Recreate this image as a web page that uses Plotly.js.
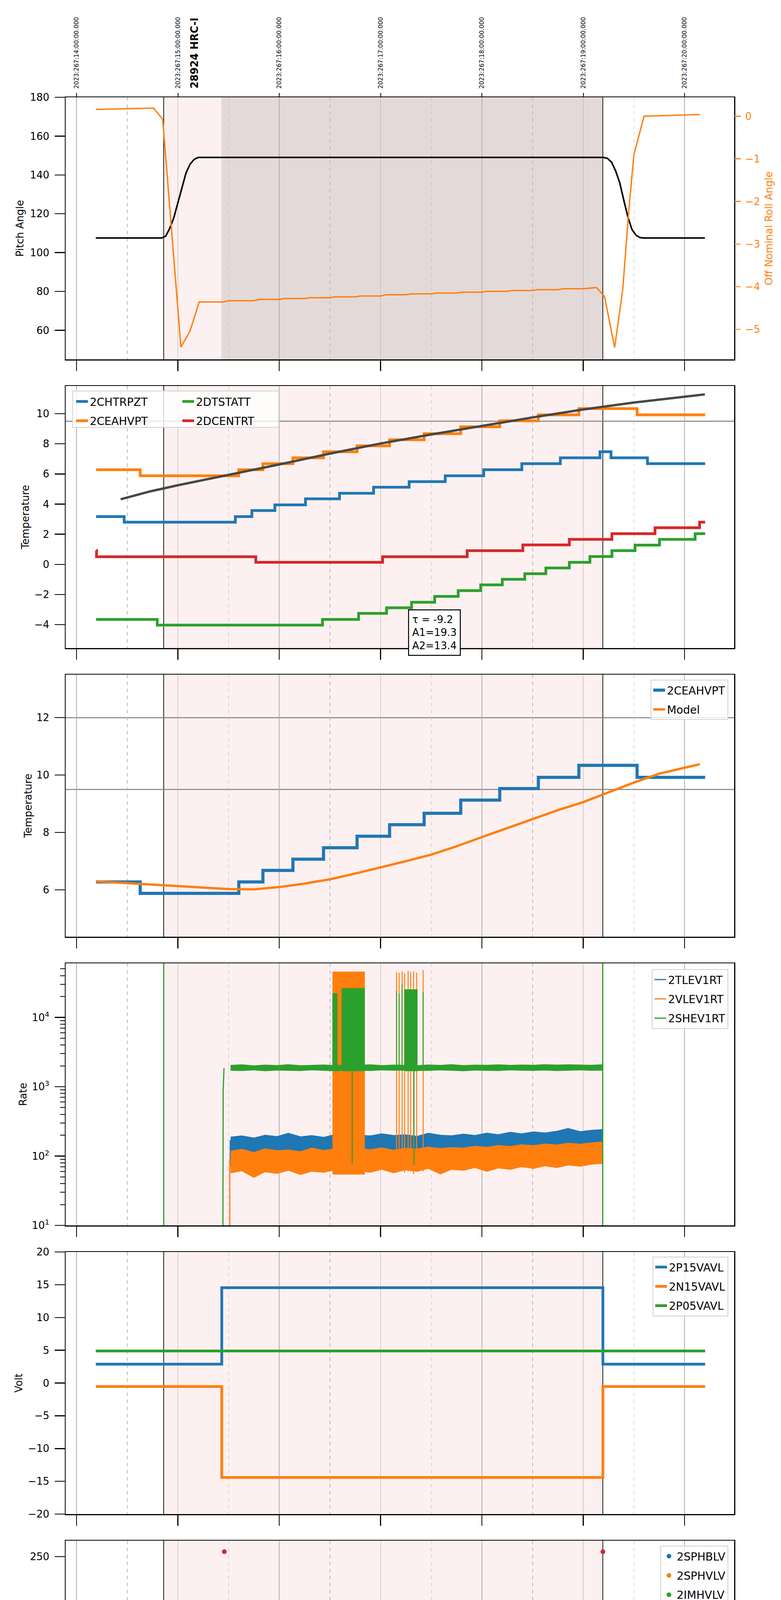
<!DOCTYPE html>
<html>
<head>
<meta charset="utf-8">
<script src="https://cdn.plot.ly/plotly-3.0.1.min.js"></script>
<style>body{margin:0;background:white}#chart{width:2000px;height:6200px}</style>
</head>
<body>
<div id="chart"></div>
<script>
// time axis is local hours on 2023-09-24 (day 267)
var HOURS = [10, 11, 12, 13, 14, 15, 16];
var HALF_HOURS = [10.5, 11.5, 12.5, 13.5, 14.5, 15.5];
var HOUR_LABELS = ['10h', '11h', '12h', '13h', '14h', '15h', '16h'];
var UTC_LABELS = ['2023:267:14:00:00.000', '2023:267:15:00:00.000', '2023:267:16:00:00.000',
  '2023:267:17:00:00.000', '2023:267:18:00:00.000', '2023:267:19:00:00.000', '2023:267:20:00:00.000'];
var OBS_START = 10.860, OBS_END = 15.193, SCI_START = 11.43;

// panel 1: pitch and roll
var pitchT = [10.19, 10.84, 10.88, 10.92, 10.96, 11.00, 11.04, 11.08, 11.12, 11.16, 11.20, 15.20, 15.24, 15.28, 15.32, 15.36, 15.40, 15.44, 15.48, 15.52, 15.56, 15.60, 16.20];
var pitchV = [107.5, 107.5, 108.5, 112.5, 118, 125.5, 133.5, 141, 145.5, 148, 149, 149, 148.5, 146.5, 142, 136, 127, 118.5, 112, 109, 107.7, 107.5, 107.5];
var rollT = [10.19, 10.76, 10.85, 11.03, 11.12, 11.21, 11.45, 11.5, 11.75, 11.8, 12.0, 12.05, 12.25, 12.3, 12.5, 12.55, 12.75, 12.8, 13.0, 13.05, 13.25, 13.3, 13.5, 13.55, 13.75, 13.8, 14.0, 14.05, 14.25, 14.3, 14.5, 14.55, 14.75, 14.8, 15.0, 15.05, 15.13, 15.21, 15.31, 15.39, 15.45, 15.5, 15.6, 16.15];
var rollV = [0.16, 0.19, -0.07, -5.42, -5.04, -4.36, -4.36, -4.33, -4.33, -4.30, -4.30, -4.28, -4.28, -4.26, -4.26, -4.24, -4.24, -4.22, -4.22, -4.19, -4.19, -4.17, -4.17, -4.15, -4.15, -4.13, -4.13, -4.11, -4.11, -4.09, -4.09, -4.07, -4.07, -4.05, -4.05, -4.04, -4.02, -4.23, -5.43, -4.06, -2.2, -0.9, 0.0, 0.04];

// panel 2: temperatures
var chtrpztT = [10.193, 10.470, 11.567, 11.730, 11.957, 12.259, 12.595, 12.931, 13.282, 13.638, 14.018, 14.394, 14.774, 15.165, 15.274, 15.634, 16.203];
var chtrpztV = [3.17, 2.80, 3.17, 3.57, 3.95, 4.35, 4.72, 5.12, 5.49, 5.88, 6.28, 6.68, 7.07, 7.47, 7.07, 6.68, 6.68];
var ceahvptT = [10.193, 10.628, 11.601, 11.839, 12.135, 12.437, 12.768, 13.089, 13.430, 13.791, 14.176, 14.557, 14.957, 15.531, 16.203];
var ceahvptV = [6.28, 5.88, 6.28, 6.68, 7.07, 7.47, 7.87, 8.27, 8.67, 9.13, 9.53, 9.92, 10.34, 9.92, 9.92];
var dtstattT = [10.193, 10.796, 12.427, 12.783, 13.059, 13.306, 13.534, 13.766, 13.988, 14.201, 14.423, 14.631, 14.863, 15.066, 15.283, 15.511, 15.753, 16.104, 16.203];
var dtstattV = [-3.65, -4.03, -3.65, -3.25, -2.88, -2.51, -2.12, -1.74, -1.36, -0.99, -0.62, -0.24, 0.14, 0.52, 0.91, 1.28, 1.66, 2.04, 2.04];
var dcentrtT = [10.193, 10.197, 11.769, 13.020, 13.855, 14.404, 14.863, 15.283, 15.708, 16.148, 16.203];
var dcentrtV = [0.92, 0.51, 0.14, 0.51, 0.91, 1.29, 1.66, 2.04, 2.43, 2.80, 2.80];
var fitT = [10.435, 10.73, 11.0, 11.5, 12.0, 12.5, 13.0, 13.5, 14.0, 14.5, 15.0, 15.5, 16.2];
var fitV = [4.32, 4.85, 5.25, 5.93, 6.63, 7.35, 8.02, 8.62, 9.2, 9.75, 10.28, 10.74, 11.28];
var limit2 = [9.5];

// panel 3: 2CEAHVPT vs model
var modelT = [10.19, 10.5, 10.75, 11.0, 11.25, 11.5, 11.75, 12.0, 12.25, 12.5, 12.75, 13.0, 13.25, 13.5, 13.75, 14.0, 14.25, 14.5, 14.75, 15.0, 15.25, 15.5, 15.75, 16.0, 16.15];
var modelV = [6.30, 6.24, 6.19, 6.13, 6.08, 6.03, 6.02, 6.10, 6.22, 6.37, 6.57, 6.78, 7.0, 7.23, 7.52, 7.84, 8.15, 8.48, 8.78, 9.06, 9.4, 9.74, 10.05, 10.25, 10.38];
var limit3 = [12, 9.5];

// panel 4: rates (noisy bands given as min / max envelopes)
var bandT = [11.52, 11.63, 11.75, 11.86, 11.98, 12.09, 12.21, 12.32, 12.44, 12.55, 12.67, 12.78, 12.9, 13.01, 13.13, 13.24, 13.36, 13.47, 13.59, 13.7, 13.82, 13.93, 14.05, 14.16, 14.28, 14.39, 14.51, 14.62, 14.74, 14.85, 14.97, 15.08, 15.19];
var tlevHi = [188, 196, 183, 201, 192, 214, 190, 198, 187, 205, 192, 200, 196, 210, 199, 204, 193, 214, 201, 197, 208, 199, 215, 204, 221, 210, 224, 216, 229, 251, 226, 236, 242];
var tlevLo = [112, 118, 110, 116, 113, 120, 108, 117, 114, 118, 111, 120, 116, 123, 114, 121, 119, 125, 118, 127, 121, 129, 123, 132, 128, 136, 132, 140, 137, 144, 141, 148, 152];
var vlevHi = [118, 126, 113, 128, 120, 123, 116, 131, 121, 127, 119, 129, 124, 132, 122, 130, 127, 135, 129, 133, 131, 139, 134, 143, 138, 146, 142, 150, 145, 154, 149, 156, 160];
var vlevLo = [57, 61, 49, 59, 56, 62, 54, 60, 58, 63, 55, 61, 58, 64, 57, 63, 60, 66, 55, 64, 62, 68, 60, 67, 64, 70, 66, 72, 68, 74, 71, 76, 78];
var shevHi = [2040, 2080, 2010, 2060, 2030, 2090, 2020, 2050, 2070, 2030, 2060, 2040, 2080, 2030, 2060, 2050, 2020, 2070, 2040, 2090, 2030, 2060, 2050, 2080, 2040, 2070, 2050, 2090, 2060, 2080, 2070, 2050, 2080];
var shevLo = [1720, 1700, 1740, 1690, 1730, 1710, 1700, 1740, 1720, 1690, 1730, 1710, 1700, 1740, 1720, 1730, 1700, 1710, 1740, 1720, 1690, 1730, 1710, 1700, 1740, 1720, 1710, 1730, 1700, 1720, 1740, 1710, 1730];
var tlevRiseT = [11.517, 11.517], tlevRiseV = [70, 170];
var vlevRiseT = [11.512, 11.512], vlevRiseV = [5, 90];
var shevLineT = [10.86, 10.86, null, 11.443, 11.447, 11.455, null, 15.192, 15.192];
var shevLineV = [1, 1000000, null, 1, 900, 1850, null, 1, 1000000];
var vlevBurstT0 = [12.53, 13.158, 13.183, 13.213, 13.237, 13.272, 13.297, 13.326, 13.356, 13.42];
var vlevBurstT1 = [12.84, 13.158, 13.183, 13.213, 13.237, 13.272, 13.297, 13.326, 13.356, 13.42];
var vlevBurstLo = [55, 60, 60, 60, 58, 60, 60, 55, 60, 60];
var vlevBurstHi = [45000, 45000, 44000, 46000, 43000, 47000, 45000, 46000, 44000, 48000];
var shevBurstT0 = [12.53, 12.62, 12.72, 13.158, 13.183, 13.213, 13.24, 13.33, 13.42];
var shevBurstT1 = [12.57, 12.84, 12.72, 13.158, 13.183, 13.213, 13.36, 13.33, 13.42];
var shevBurstLo = [1700, 1700, 77, 1700, 1700, 1700, 1700, 75, 1700];
var shevBurstHi = [22000, 26000, 26000, 24000, 22000, 30000, 25000, 25000, 23000];

// panel 5: voltages
var p15T = [10.19, 11.433, 15.194, 16.203], p15V = [2.87, 14.55, 2.87, 2.87];
var n15T = [10.19, 11.433, 15.194, 16.203], n15V = [-0.53, -14.41, -0.53, -0.53];
var p05T = [10.19, 16.203], p05V = [4.89, 4.89];

// panel 6: HV monitor points
var imhblvT = [11.458, 11.468, 11.468, 11.473, 11.476, 11.483, 11.49, 11.497, 11.507, 12.679, 12.69, 12.703, 12.728, 13.272, 13.336, 15.194];
var imhblvV = [255, 126, 119, 105, 103, 101, 97, 93, 89, 79, 79, 79, 79, 79, 79, 255];
var imhblvRunT = [11.512, 15.19], imhblvRunV = [86, 86];
var imhvlvT = [11.463, 11.478, 11.493, 11.507, 11.517, 12.679, 12.69, 12.703, 12.728, 13.272, 13.336];
var imhvlvV = [99, 95, 90, 86, 82, 126.8, 126.8, 126.8, 126.8, 126.8, 126.8];
var imhvlvRunT = [11.52, 15.19], imhvlvRunV = [79.4, 79.4];

// panel 7: detector temperatures
var spinatmT = [11.458, 11.478, 13.05, 13.875, 14.59, 15.194];
var spinatmV = [2.75, 3.23, 3.71, 4.17, 4.61, 4.61];
var sphvatmT = [11.433, 11.443, 12.278, 12.634, 12.960, 13.30, 13.568, 13.865, 14.201, 14.522, 14.858, 15.19, 15.194];
var sphvatmV = [14.7, 15.28, 15.56, 15.83, 16.13, 16.39, 16.70, 16.97, 17.27, 17.56, 17.84, 18.05, 18.05];
var iminatmT = [11.458, 13.282, 14.201, 14.952, 15.194];
var iminatmV = [1.49, 1.92, 2.35, 2.79, 2.79];
var imhvatmT = [11.428, 11.433, 11.661, 11.779, 11.873, 11.997, 12.140, 12.298, 12.491, 12.654, 12.901, 13.124, 13.361, 13.633, 13.929, 14.236, 14.557, 14.868, 15.192, 15.196];
var imhvatmV = [-1, 14.69, 14.99, 15.28, 15.56, 15.82, 16.13, 16.40, 16.70, 16.99, 17.27, 17.54, 17.84, 18.13, 18.42, 18.71, 19.00, 19.28, 25, -1];
var spinBurstT0 = [12.53, 12.644, 13.148, 13.42], spinBurstT1 = [12.60, 12.84, 13.356, 13.42];
var spinBurstLo = [0, 0, 0, 0], spinBurstHi = [3.23, 3.23, 3.71, 3.71];
var sphvBurstT0 = [12.53, 12.644, 12.63, 13.148, 13.42], sphvBurstT1 = [12.57, 12.644, 12.84, 13.356, 13.42];
var sphvBurstLo = [10.57, 0, 10.72, 11.3, 11.6], sphvBurstHi = [15.56, 15.56, 15.83, 16.13, 16.39];
var iminBurstT0 = [12.53, 12.62, 13.148, 13.42], iminBurstT1 = [12.57, 12.84, 13.356, 13.42];
var iminBurstLo = [1.49, 1.49, 1.49, 1.92], iminBurstHi = [3.33, 3.33, 3.77, 3.77];
var imhvBurstT0 = [12.53, 12.63, 13.124, 13.36], imhvBurstT1 = [12.57, 12.84, 13.30, 13.36];
var imhvBurstLo = [15.45, 15.69, 16.08, 16.3], imhvBurstHi = [16.7, 16.99, 17.54, 17.84];

// panel 8: FEA temperatures
var fhtrmztT = [11.655, 11.661, 11.784, 11.903, 12.002, 12.125, 12.239, 12.358, 12.481, 12.605, 12.73, 12.852, 12.951, 13.064, 13.183, 13.346, 13.445, 13.583, 13.717, 13.865, 13.998, 14.137, 14.285, 14.433, 14.582, 14.730, 14.878, 15.036, 15.194, 15.644, 15.916, 16.163, 16.203];
var fhtrmztV = [-8, -7.19, -6.79, -6.39, -6.0, -5.6, -5.2, -4.8, -4.41, -4.02, -3.65, -3.26, -2.86, -2.51, -2.1, -1.74, -1.37, -0.99, -0.61, -0.24, 0.15, 0.52, 0.90, 1.28, 1.65, 2.04, 2.42, 2.80, 3.18, 2.80, 2.42, 2.04, 2.04];
var fradpytT = [11.997, 12.002, 12.110, 12.234, 12.358, 12.481, 12.605, 12.728, 12.852, 12.975, 13.109, 13.222, 13.371, 13.519, 13.657, 13.806, 13.949, 14.102, 14.260, 14.409, 14.582, 14.745, 14.903, 15.076, 15.521, 15.634, 15.768, 15.926, 16.104, 16.203];
var fradpytV = [-8, -7.19, -6.79, -6.39, -6.0, -5.6, -5.2, -4.8, -4.41, -4.02, -3.66, -3.27, -2.86, -2.51, -2.12, -1.74, -1.37, -0.99, -0.61, -0.24, 0.15, 0.52, 0.90, 1.28, 0.90, 0.52, 0.15, -0.24, -0.61, -0.61];
var fepratmT = [11.455, 11.493, 11.527, 11.567, 11.62, 11.666, 11.740, 11.839, 11.937, 12.051, 12.160, 12.269, 12.382, 12.506, 12.629, 12.778, 12.901, 13.025, 13.173, 13.371, 13.484, 13.633, 13.781, 13.949, 14.122, 14.285, 14.433, 14.631, 14.829, 15.026];
var fepratmV = [-6.64, -6.23, -5.82, -5.41, -5.0, -4.58, -4.23, -3.82, -3.41, -3.00, -2.58, -2.21, -1.79, -1.38, -0.97, -0.58, -0.19, 0.22, 0.65, 1.09, 1.50, 1.91, 2.36, 2.80, 3.21, 3.64, 4.11, 4.59, 5.06, 5.06];
var fe00atmT = [11.428, 11.433, 11.542, 11.580, 11.586, 11.620, 11.626, 11.666, 11.715, 11.814, 11.913, 12.061, 12.135, 12.182, 12.188, 12.234, 12.333, 12.407, 12.481, 12.605, 12.728, 12.802, 12.901, 12.975, 13.074, 13.198, 13.371, 13.484, 13.544, 13.593, 13.717, 13.816, 13.929, 14.048, 14.162, 14.275, 14.310, 14.316, 14.409, 14.508, 14.631, 14.745, 14.878, 15.026, 15.192, 15.196];
var fe00atmV = [-8, -5.61, -5.23, -6.4, -5.23, -4.1, -5.23, -4.87, -4.53, -4.17, -3.82, -3.44, -2.77, -3.5, -2.77, -2.43, -2.12, -1.79, -1.44, -1.12, -0.74, -0.45, -0.15, 0.16, 0.49, 0.80, 1.16, 1.44, 1.72, 2.05, 2.36, 2.66, 2.95, 3.25, 3.55, 3.86, 2.6, 3.86, 4.16, 4.44, 4.72, 5.03, 5.24, 5.6, 10, -10];
var fepBurstT0 = [12.506, 12.62, 13.148, 13.42], fepBurstT1 = [12.57, 12.84, 13.37, 13.42];
var fepBurstLo = [-4.67, -4.67, -4.67, -4.67], fepBurstHi = [-1.38, -0.8, 0.65, 1.1];
var fe00BurstT0 = [12.53, 12.60, 12.644, 12.713, 13.148, 13.321, 13.42];
var fe00BurstT1 = [12.57, 12.85, 12.644, 12.713, 13.37, 13.321, 13.42];
var fe00BurstLo = [-1.44, -1.12, -8, -8, 0.5, -8, 1.2];
var fe00BurstHi = [6, 6, 6, 6, 6, 6, 6];

var BLUE = '#1f77b4', ORANGE = '#ff7f0e', GREEN = '#2ca02c', RED = '#d62728';
var X_RANGE = [9.892, 16.489];

function xa(p) { return p === 1 ? 'x' : 'x' + p; }
function ya(p) { return p === 1 ? 'y' : 'y' + p; }

function line(p, name, t, v, color, width, legend, shape) {
  return {type: 'scatter', mode: 'lines', x: t, y: v, name: name, xaxis: xa(p), yaxis: ya(p),
    line: {color: color, width: width, shape: shape || 'hv'},
    showlegend: !!legend, legend: legend || 'legend', legendgroup: 'p' + p + name};
}
function blocks(p, name, t0, t1, lo, hi, color) {
  var x = [], y = [];
  for (var i = 0; i < t0.length; i++) {
    x.push(t0[i], t1[i], t1[i], t0[i], t0[i], null);
    y.push(lo[i], lo[i], hi[i], hi[i], lo[i], null);
  }
  return {type: 'scatter', mode: 'lines', x: x, y: y, fill: 'toself', fillcolor: color,
    line: {color: color, width: 2.5}, xaxis: xa(p), yaxis: ya(p), showlegend: false,
    legendgroup: 'p' + p + name, hoverinfo: 'skip'};
}
function band(p, name, t, hi, lo, color) {
  return {type: 'scatter', mode: 'lines', x: t.concat(t.slice().reverse()),
    y: hi.concat(lo.slice().reverse()), fill: 'toself', fillcolor: color,
    line: {color: color, width: 1.5}, xaxis: xa(p), yaxis: ya(p), showlegend: false,
    legendgroup: 'p' + p + name, hoverinfo: 'skip'};
}
function carrier(xName, yName, t, v) {
  return {type: 'scatter', mode: 'lines', x: t, y: v, xaxis: xName, yaxis: yName,
    line: {color: 'rgba(0,0,0,0)', width: 0}, showlegend: false, hoverinfo: 'skip'};
}

var traces = [];
// panel 1
traces.push(line(1, 'Pitch', pitchT, pitchV, 'black', 4, null, 'linear'));
var roll = line(1, 'Roll', rollT, rollV, ORANGE, 3.5, null, 'linear');
roll.yaxis = 'y9';
traces.push(roll);
traces.push(carrier('x9', 'y', pitchT, pitchV));
// panel 2
traces.push(line(2, '2CHTRPZT', chtrpztT, chtrpztV, BLUE, 7, 'legend'));
traces.push(line(2, '2CEAHVPT', ceahvptT, ceahvptV, ORANGE, 7, 'legend'));
traces.push(line(2, '2DTSTATT', dtstattT, dtstattV, GREEN, 7, 'legend2'));
traces.push(line(2, '2DCENTRT', dcentrtT, dcentrtV, RED, 7, 'legend2'));
traces.push(line(2, 'fit', fitT, fitV, '#474747', 6, null, 'linear'));
// panel 3
traces.push(line(3, '2CEAHVPT', ceahvptT, ceahvptV, BLUE, 8, 'legend3'));
traces.push(line(3, 'Model', modelT, modelV, ORANGE, 6, 'legend3', 'linear'));
// panel 4
traces.push(line(4, '2TLEV1RT', tlevRiseT, tlevRiseV, BLUE, 3, 'legend4', 'linear'));
traces.push(band(4, '2TLEV1RT', bandT, tlevHi, tlevLo, BLUE));
traces.push(line(4, '2VLEV1RT', vlevRiseT, vlevRiseV, ORANGE, 3, 'legend4', 'linear'));
traces.push(band(4, '2VLEV1RT', bandT, vlevHi, vlevLo, ORANGE));
traces.push(blocks(4, '2VLEV1RT', vlevBurstT0, vlevBurstT1, vlevBurstLo, vlevBurstHi, ORANGE));
traces.push(line(4, '2SHEV1RT', shevLineT, shevLineV, GREEN, 3, 'legend4', 'linear'));
traces.push(band(4, '2SHEV1RT', bandT, shevHi, shevLo, GREEN));
traces.push(blocks(4, '2SHEV1RT', shevBurstT0, shevBurstT1, shevBurstLo, shevBurstHi, GREEN));
// panel 5
traces.push(line(5, '2P15VAVL', p15T, p15V, BLUE, 7, 'legend5'));
traces.push(line(5, '2N15VAVL', n15T, n15V, ORANGE, 7, 'legend5'));
traces.push(line(5, '2P05VAVL', p05T, p05V, GREEN, 7, 'legend5'));
// panel 6
function hv(name, t, v, runT, runV, color, runWidth) {
  traces.push({type: 'scatter', mode: 'lines+markers', x: runT, y: runV, xaxis: 'x6', yaxis: 'y6',
    line: {color: color, width: runWidth}, marker: {color: color, size: 12}, showlegend: false,
    legendgroup: 'p6' + name, hoverinfo: 'skip'});
  traces.push({type: 'scatter', mode: 'markers', x: t, y: v, name: name, xaxis: 'x6', yaxis: 'y6',
    marker: {color: color, size: 12}, legend: 'legend6', legendgroup: 'p6' + name});
}
hv('2SPHBLV', imhblvT, imhblvV, imhblvRunT, imhblvRunV, BLUE, 12);
hv('2SPHVLV', imhvlvT, imhvlvV, imhvlvRunT, imhvlvRunV, ORANGE, 13);
hv('2IMHVLV', imhvlvT, imhvlvV, imhvlvRunT, imhvlvRunV, GREEN, 13);
hv('2IMHBLV', imhblvT, imhblvV, imhblvRunT, imhblvRunV, RED, 12);
// panel 7
traces.push(line(7, '2SPINATM', spinatmT, spinatmV, BLUE, 7.5, 'legend7'));
traces.push(blocks(7, '2SPINATM', spinBurstT0, spinBurstT1, spinBurstLo, spinBurstHi, BLUE));
traces.push(line(7, '2SPHVATM', sphvatmT, sphvatmV, ORANGE, 7.5, 'legend7'));
traces.push(blocks(7, '2SPHVATM', sphvBurstT0, sphvBurstT1, sphvBurstLo, sphvBurstHi, ORANGE));
traces.push(line(7, '2IMINATM', iminatmT, iminatmV, GREEN, 7.5, 'legend7'));
traces.push(blocks(7, '2IMINATM', iminBurstT0, iminBurstT1, iminBurstLo, iminBurstHi, GREEN));
traces.push(line(7, '2IMHVATM', imhvatmT, imhvatmV, RED, 7.5, 'legend7'));
traces.push(blocks(7, '2IMHVATM', imhvBurstT0, imhvBurstT1, imhvBurstLo, imhvBurstHi, RED));
// panel 8
traces.push(line(8, '2FHTRMZT', fhtrmztT, fhtrmztV, BLUE, 7.5, 'legend8'));
traces.push(line(8, '2FRADPYT', fradpytT, fradpytV, ORANGE, 7.5, 'legend8'));
traces.push(line(8, '2FEPRATM', fepratmT, fepratmV, GREEN, 7.5, 'legend8'));
traces.push(blocks(8, '2FEPRATM', fepBurstT0, fepBurstT1, fepBurstLo, fepBurstHi, GREEN));
traces.push(line(8, '2FE00ATM', fe00atmT, fe00atmV, RED, 7.5, 'legend8'));
traces.push(blocks(8, '2FE00ATM', fe00BurstT0, fe00BurstT1, fe00BurstLo, fe00BurstHi, RED));
traces.push(carrier('x10', 'y8', fhtrmztT, fhtrmztV));

// layout
var PLOT_TOP = 249, PLOT_BOT = 6093, PLOT_H = PLOT_BOT - PLOT_TOP;
function fy(px) { return (PLOT_BOT - px) / PLOT_H; }
function fx(px) { return (px - 168) / 1712; }

var yInfo = [
  {range: [45, 180], tickvals: [60, 80, 100, 120, 140, 160, 180], title: 'Pitch Angle', standoff: 9},
  {range: [-5.55, 11.84], tickvals: [-4, -2, 0, 2, 4, 6, 8, 10], title: 'Temperature', standoff: 6},
  {range: [4.37, 13.5], tickvals: [6, 8, 10, 12], title: 'Temperature', standoff: 4},
  {range: [1, 4.78], type: 'log', tickvals: [10, 100, 1000, 10000],
    ticktext: ['10<sup>1</sup>', '10<sup>2</sup>', '10<sup>3</sup>', '10<sup>4</sup>'], title: 'Rate', standoff: 6},
  {range: [-20, 20], tickvals: [-20, -15, -10, -5, 0, 5, 10, 15, 20], title: 'Volt', standoff: 7},
  {range: [0, 266.2], tickvals: [0, 50, 100, 150, 200, 250], title: 'HV Monitor', standoff: 6},
  {range: [0, 20.18], tickvals: [0, 2.5, 5, 7.5, 10, 12.5, 15, 17.5, 20], tickformat: '.1f', title: 'Detector Temp', standoff: 8},
  {range: [-7.49, 5.33], tickvals: [-6, -4, -2, 0, 2, 4], title: 'FEA Temp', standoff: 5}
];

var layout = {
  width: 2000, height: 6200,
  margin: {l: 168, r: 120, t: PLOT_TOP, b: 6200 - PLOT_BOT},
  paper_bgcolor: 'white', plot_bgcolor: 'white',
  font: {family: 'DejaVu Sans', size: 26, color: 'black'},
  shapes: [], annotations: []
};

var minorLog = [];
[10, 100, 1000, 10000].forEach(function (d) { for (var k = 2; k <= 9; k++) { if (d * k < 60000) minorLog.push(d * k); } });

for (var p = 1; p <= 8; p++) {
  var panelTop = 249 + (p - 1) * 739, panelBot = panelTop + 671;
  var info = yInfo[p - 1];
  var xk = p === 1 ? 'xaxis' : 'xaxis' + p;
  var yk = p === 1 ? 'yaxis' : 'yaxis' + p;
  layout[xk] = {
    domain: [0, 1], anchor: ya(p), range: X_RANGE, fixedrange: true,
    tickmode: 'array', tickvals: HOURS, ticktext: HOUR_LABELS, showticklabels: p === 8,
    ticks: 'outside', ticklen: p === 8 ? 29 : 27, tickwidth: 2.5, tickcolor: 'black',
    tickfont: {size: 28}, ticklabelstandoff: 4,
    showgrid: true, gridcolor: '#b0b0b0', gridwidth: 1.5,
    minor: {tickmode: 'array', tickvals: HALF_HOURS, ticks: '', showgrid: true,
      gridcolor: '#b8b8b8', gridwidth: 1.5, griddash: 'dash'},
    showline: true, mirror: true, linewidth: 2.5, linecolor: 'black', zeroline: false
  };
  layout[yk] = {
    domain: [fy(panelBot), fy(panelTop)], anchor: xa(p), range: info.range, type: info.type || 'linear',
    fixedrange: true, tickmode: 'array', tickvals: info.tickvals, ticktext: info.ticktext,
    tickformat: info.tickformat, ticks: 'outside', ticklen: 26, tickwidth: 2.5, tickcolor: 'black',
    ticklabelstandoff: 8, tickfont: {size: 26},
    showgrid: false, zeroline: false, showline: true, mirror: true, linewidth: 2.5, linecolor: 'black',
    title: {text: info.title, font: {size: 26}, standoff: info.standoff}
  };
  if (info.type === 'log') {
    layout[yk].minor = {tickmode: 'array', tickvals: minorLog, ticks: 'outside', ticklen: 12,
      tickwidth: 2, tickcolor: 'black', showgrid: false};
  }
  // observation window
  layout.shapes.push({type: 'rect', xref: xa(p), yref: ya(p) + ' domain', x0: OBS_START, x1: OBS_END,
    y0: 0, y1: 1, fillcolor: '#fdf0f0', line: {width: 0}, layer: 'below'});
  if (p === 1) {
    layout.shapes.push({type: 'rect', xref: 'x', yref: 'y domain', x0: SCI_START, x1: OBS_END,
      y0: 0, y1: 1, fillcolor: '#e4d9d9', line: {width: 0}, layer: 'below'});
  }
  [OBS_START, OBS_END].forEach(function (t) {
    layout.shapes.push({type: 'line', xref: xa(p), yref: ya(p) + ' domain', x0: t, x1: t, y0: 0, y1: 1,
      line: {color: 'black', width: 1.8}, layer: 'below'});
  });
}
layout.xaxis8.title = {text: '2023-09-24 (267)', font: {size: 30}, standoff: 20};

// limit lines
limit2.forEach(function (v) {
  layout.shapes.push({type: 'line', xref: 'x2 domain', yref: 'y2', x0: 0, x1: 1, y0: v, y1: v,
    line: {color: '#808080', width: 2.5}, layer: 'below'});
});
limit3.forEach(function (v) {
  layout.shapes.push({type: 'line', xref: 'x3 domain', yref: 'y3', x0: 0, x1: 1, y0: v, y1: v,
    line: {color: '#808080', width: 2.5}, layer: 'below'});
});

// roll axis
layout.yaxis9 = {
  overlaying: 'y', side: 'right', anchor: 'x', range: [-5.707, 0.445], fixedrange: true,
  tickmode: 'array', tickvals: [0, -1, -2, -3, -4, -5], ticks: 'outside', ticklen: 16, tickwidth: 2.5,
  tickcolor: ORANGE, tickfont: {size: 26, color: ORANGE}, ticklabelstandoff: 6,
  showgrid: false, zeroline: false, showline: false,
  title: {text: 'Off Nominal Roll Angle', font: {size: 26, color: ORANGE}, standoff: 14}
};
// UTC labels above panel 1
layout.xaxis9 = {
  overlaying: 'x', side: 'top', anchor: 'y', range: X_RANGE, fixedrange: true,
  tickmode: 'array', tickvals: HOURS, ticktext: UTC_LABELS, tickangle: -90,
  ticks: 'outside', ticklen: 10, tickwidth: 2, tickcolor: 'black', tickfont: {size: 15.5},
  ticklabelstandoff: 8, showgrid: false, zeroline: false, showline: false
};
// half-hour labels under panel 8
layout.xaxis10 = {
  overlaying: 'x8', side: 'bottom', anchor: 'y8', range: X_RANGE, fixedrange: true,
  tickmode: 'array', tickvals: HALF_HOURS, ticktext: HALF_HOURS.map(function () { return '30'; }),
  ticks: '', tickfont: {size: 18}, ticklabelstandoff: 4,
  showgrid: false, zeroline: false, showline: false
};

// observation label
layout.annotations.push({xref: 'x', yref: 'y domain', x: 11.16, y: 1, yanchor: 'bottom', xanchor: 'center',
  yshift: 20, textangle: -90, showarrow: false, text: '<b>28924 HRC-I</b>', font: {size: 26}});
// fit parameters
layout.annotations.push({xref: 'x2', yref: 'y2 domain', x: 13.272, y: (1659 - 1560) / 671,
  xanchor: 'left', yanchor: 'top', showarrow: false, align: 'left',
  text: '\u03c4 = -9.2<br>A1=19.3<br>A2=13.4', font: {size: 26},
  bgcolor: 'white', bordercolor: 'black', borderwidth: 2.5, borderpad: 8});

// legends
var legBase = {bgcolor: 'rgba(255,255,255,0.8)', bordercolor: '#d0d0d0', borderwidth: 2,
  font: {size: 28}, xref: 'paper', yref: 'paper', xanchor: 'right', yanchor: 'top', x: fx(1865)};
function leg(extra) { return Object.assign({}, legBase, extra); }
layout.legend = leg({x: fx(190), xanchor: 'left', y: fy(1003), bgcolor: 'rgba(0,0,0,0)', borderwidth: 0});
layout.legend2 = leg({x: fx(462), xanchor: 'left', y: fy(1003), bgcolor: 'rgba(0,0,0,0)', borderwidth: 0});
layout.shapes.push({type: 'rect', xref: 'paper', yref: 'paper', x0: fx(186), x1: fx(714),
  y0: fy(1094), y1: fy(1001), fillcolor: 'rgba(255,255,255,0.8)', line: {color: '#d0d0d0', width: 2}, layer: 'above'});
layout.legend3 = leg({y: fy(1740)});
layout.legend4 = leg({y: fy(2481)});
layout.legend5 = leg({y: fy(3217)});
layout.legend6 = leg({y: fy(3957)});
layout.legend7 = leg({y: fy(4695)});
layout.legend8 = leg({y: fy(6078), yanchor: 'bottom'});

Plotly.newPlot('chart', traces, layout, {staticPlot: true});
</script>
</body>
</html>
